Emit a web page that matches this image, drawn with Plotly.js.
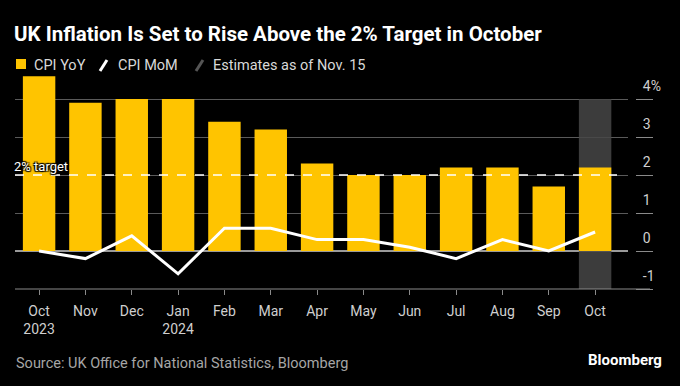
<!DOCTYPE html>
<html>
<head>
<meta charset="utf-8">
<script src="https://cdn.plot.ly/plotly-3.0.1.min.js"></script>
<style>html,body{margin:0;padding:0;background:#000;}#chart{width:680px;height:386px;}</style>
</head>
<body>
<div id="chart"></div>
<script>
// ---- data ----
const months = ['2023-10','2023-11','2023-12','2024-01','2024-02','2024-03','2024-04','2024-05','2024-06','2024-07','2024-08','2024-09','2024-10'];
const monthLabels = ['Oct<br>2023','Nov','Dec','Jan<br>2024','Feb','Mar','Apr','May','Jun','Jul','Aug','Sep','Oct'];
const cpiYoY = [4.6, 3.9, 4.0, 4.0, 3.4, 3.2, 2.3, 2.0, 2.0, 2.2, 2.2, 1.7, 2.2];
const cpiMoM = [0.0, -0.2, 0.4, -0.6, 0.6, 0.6, 0.3, 0.3, 0.1, -0.2, 0.3, 0.0, 0.5];
const estimateMonths = ['2024-10'];
const estimateLow = [-1];
const estimateHigh = [4];
const targetRate = 2;
const yTickVals = [-1, 0, 1, 2, 3, 4];
const yTickText = ['-1', '0', '1', '2', '3', '4%'];

// ---- layout helpers (pixel -> paper) ----
const W = 680, H = 386, ML = 15, MR = 28, MT = 74, MB = 97;
const PW = W - ML - MR, PH = H - MT - MB;
const px = x => (x - ML) / PW;
const py = y => (H - MB - y) / PH;

const YELLOW = '#FFC400';
const font = 'Roboto, "Liberation Sans", Arial, sans-serif';

const traces = [
  {
    type: 'bar', x: estimateMonths, y: estimateHigh.map((h, i) => h - estimateLow[i]), base: estimateLow,
    marker: {color: 'rgba(70,70,70,0.85)', line: {width: 0}}, width: 0.7, hoverinfo: 'skip', showlegend: false
  },
  {
    type: 'bar', x: months, y: cpiYoY, name: 'CPI YoY',
    marker: {color: YELLOW, line: {width: 0}}, width: 0.7, showlegend: false
  },
  {
    type: 'scatter', mode: 'lines', x: months, y: cpiMoM, name: 'CPI MoM',
    line: {color: '#ffffff', width: 3}, showlegend: false
  }
];

const annotations = [
  {xref: 'paper', yref: 'paper', x: px(32), y: py(65), xanchor: 'left', yanchor: 'middle', showarrow: false,
   text: 'CPI YoY', font: {family: font, size: 14.5, color: '#d9d9d9'}},
  {xref: 'paper', yref: 'paper', x: px(116), y: py(65), xanchor: 'left', yanchor: 'middle', showarrow: false,
   text: 'CPI MoM', font: {family: font, size: 14.5, color: '#d9d9d9'}},
  {xref: 'paper', yref: 'paper', x: px(211), y: py(65), xanchor: 'left', yanchor: 'middle', showarrow: false,
   text: 'Estimates as of Nov. 15', font: {family: font, size: 14.5, color: '#d9d9d9'}},
  {xref: 'paper', yref: 'y', x: px(15), y: targetRate, xanchor: 'left', yanchor: 'bottom', showarrow: false,
   text: '2% target', yshift: -1, xshift: -3,
   font: {family: font, size: 13, color: '#ffffff', shadow: '1px 1px 1px #000, -1px -1px 1px #000, 1px -1px 1px #000, -1px 1px 1px #000'}},
  {xref: 'paper', yref: 'paper', x: px(14), y: py(363), xanchor: 'left', yanchor: 'middle', showarrow: false,
   text: 'Source: UK Office for National Statistics, Bloomberg', font: {family: font, size: 14.5, color: '#a6a6a6'}},
  {xref: 'paper', yref: 'paper', x: px(664), y: py(360), xanchor: 'right', yanchor: 'middle', showarrow: false,
   text: '<b>Bloomberg</b>', font: {family: font, size: 15, color: '#ffffff'}}
];

const shapes = [
  // legend icons
  {type: 'rect', xref: 'paper', yref: 'paper', x0: px(16), x1: px(26), y0: py(59), y1: py(69), fillcolor: YELLOW, line: {width: 0}},
  {type: 'line', xref: 'paper', yref: 'paper', x0: px(100), x1: px(107), y0: py(71), y1: py(60), line: {color: '#ffffff', width: 3}},
  {type: 'line', xref: 'paper', yref: 'paper', x0: px(196), x1: px(203), y0: py(71), y1: py(60), line: {color: '#555555', width: 3}},
  // target line
  {type: 'line', xref: 'paper', yref: 'y', x0: 0, x1: px(617), y0: targetRate, y1: targetRate,
   line: {color: '#ffffff', width: 1.5, dash: 'dash'}, layer: 'above'},
  // bottom axis line
  {type: 'line', xref: 'paper', yref: 'paper', x0: 0, x1: px(650), y0: 0, y1: 0, line: {color: '#8a8a8a', width: 1.2}}
];

const layout = {
  width: W, height: H,
  margin: {l: ML, r: MR, t: MT, b: MB, pad: 0},
  paper_bgcolor: '#000', plot_bgcolor: '#000',
  barmode: 'overlay', bargap: 0.3,
  showlegend: false,
  title: {text: '<b>UK Inflation Is Set to Rise Above the 2% Target in October</b>',
          x: 14 / W, xanchor: 'left', xref: 'container', y: 1 - 34 / H, yanchor: 'middle', yref: 'container',
          font: {family: font, size: 20.5, color: '#ffffff'}},
  xaxis: {
    type: 'category', categoryorder: 'array', categoryarray: months,
    domain: [0, px(628)], range: [-0.52, 12.71],
    tickvals: months, ticktext: monthLabels, tickangle: 0,
    ticks: 'outside', ticklen: 5, tickcolor: '#8a8a8a', tickwidth: 1, ticklabelstandoff: 4,
    showgrid: false, zeroline: false, showline: false,
    tickfont: {family: font, size: 14, color: '#cfcfcf'}, fixedrange: true
  },
  yaxis: {
    range: [-1, -1 + PH / 38], side: 'right', anchor: 'free', position: px(635),
    tickvals: yTickVals, ticktext: yTickText,
    ticks: 'outside', ticklen: 17, tickcolor: '#8a8a8a', tickwidth: 1,
    ticklabelshift: -13, ticklabelstandoff: -13,
    showgrid: true, gridcolor: '#5a5a5a', gridwidth: 1,
    zeroline: true, zerolinecolor: '#9a9a9a', zerolinewidth: 1.2,
    showline: false,
    tickfont: {family: font, size: 14, color: '#cfcfcf'}, fixedrange: true
  },
  annotations: annotations,
  shapes: shapes
};

Plotly.newPlot('chart', traces, layout, {displayModeBar: false, staticPlot: true});
</script>
</body>
</html>
